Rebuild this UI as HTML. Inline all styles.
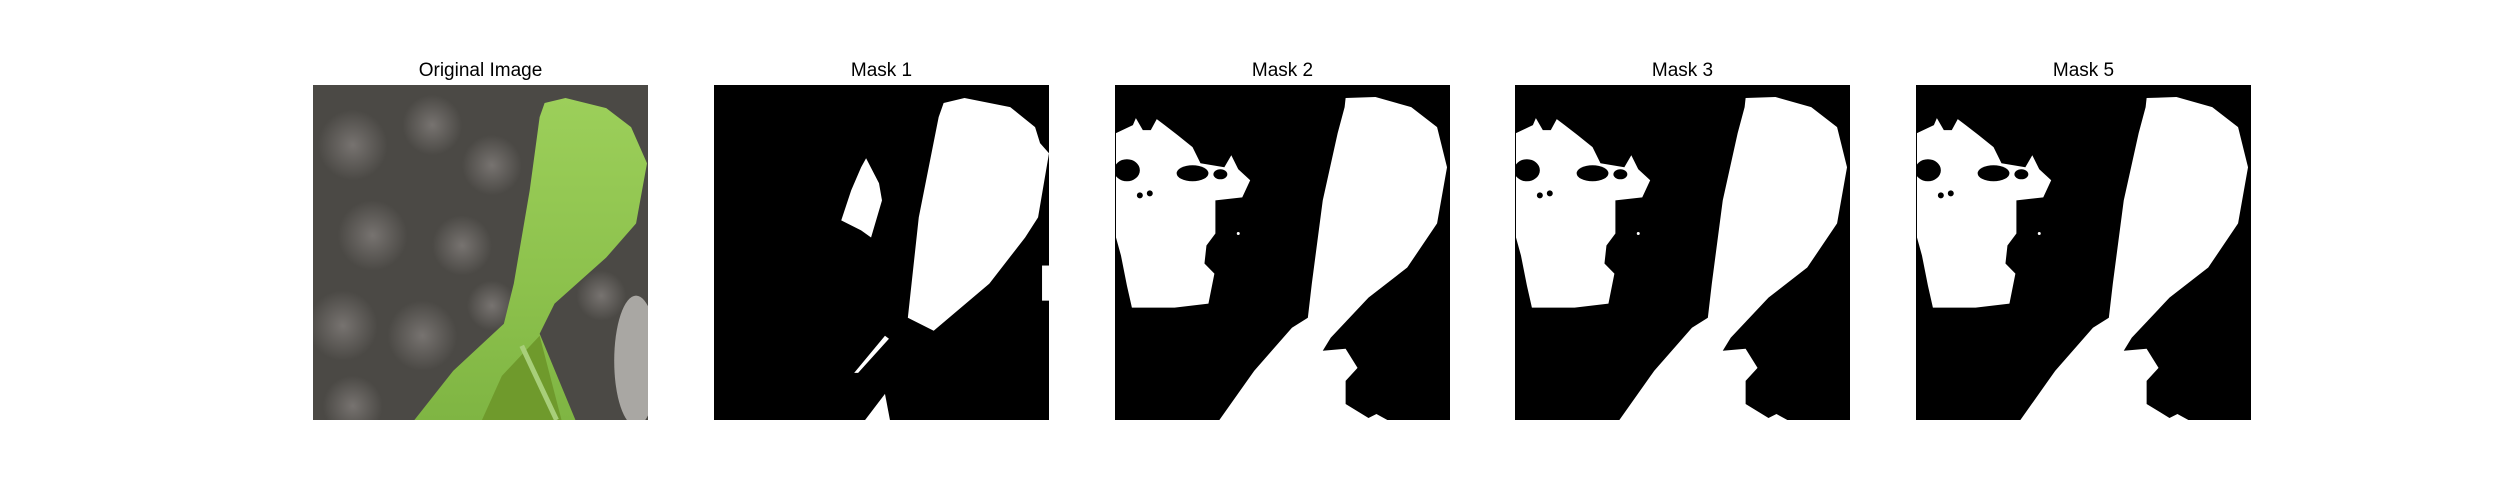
<!DOCTYPE html>
<html><head><meta charset="utf-8"><style>
html,body{margin:0;padding:0;background:#fff;width:2500px;height:500px;overflow:hidden;font-family:"Liberation Sans","DejaVu Sans",sans-serif}
.t{position:absolute;top:60px;width:335px;text-align:center;font-size:19px;color:#000}
svg.p{position:absolute;top:85px;width:335px;height:335px}
</style></head><body>
<svg width="0" height="0" style="position:absolute"><defs>
<g id="leafmask">
<path d="M231,22 L232,13 L262,12 L298,22 L324,42 L334,82 L324,138 L294,182 L255,212 L217,252 L209,265 L232,263 L244,282 L232,295 L232,318 L255,332 L263,328 L274,334 L105,334 L140,285 L178,242 L194,232 L198,198 L209,115 L224,48 Z" fill="#fff"/>
<path d="M1,48 L18,40 L21,33 L28,45 L36,45 L42,34 L50,40 L63,50 L78,62 L86,78 L110,82 L117,70 L124,84 L136,95 L128,112 L101,115 L101,148 L92,160 L90,178 L100,188 L94,218 L60,222 L17,222 L12,200 L6,170 L1,152 Z" fill="#fff"/>
<ellipse cx="12" cy="85" rx="13" ry="11" fill="#000"/>
<ellipse cx="78" cy="88" rx="16" ry="8" fill="#000"/>
<ellipse cx="106" cy="89" rx="7" ry="5" fill="#000"/>
<circle cx="25" cy="110" r="3" fill="#000"/><circle cx="35" cy="108" r="3" fill="#000"/>
<circle cx="124" cy="148" r="1.5" fill="#fff"/>
</g></defs></svg>

<div class="t" style="left:313px">Original Image</div>
<svg class="p" style="left:313px" viewBox="0 0 337 334" preserveAspectRatio="none">
<defs><radialGradient id="sp" r="0.5"><stop offset="0" stop-color="#777370"/><stop offset="1" stop-color="#777370" stop-opacity="0"/></radialGradient>
<linearGradient id="lf" x1="0" y1="0" x2="0" y2="1"><stop offset="0" stop-color="#9ccf5a"/><stop offset="0.6" stop-color="#8cc14c"/><stop offset="1" stop-color="#7fb543"/></linearGradient></defs>
<rect width="337" height="334" fill="#4b4945"/>
<g fill="url(#sp)">
<circle cx="40" cy="60" r="35"/><circle cx="120" cy="40" r="30"/><circle cx="180" cy="80" r="30"/><circle cx="60" cy="150" r="35"/>
<circle cx="150" cy="160" r="30"/><circle cx="30" cy="240" r="35"/><circle cx="110" cy="250" r="35"/><circle cx="180" cy="220" r="25"/>
<circle cx="40" cy="320" r="30"/><circle cx="250" cy="40" r="25"/><circle cx="290" cy="210" r="25"/></g>
<ellipse cx="325" cy="275" rx="22" ry="65" fill="#a9a7a3"/>
<path d="M228,32 L233,18 L254,13 L295,23 L320,42 L336,78 L325,138 L295,172 L243,218 L228,248 L264,334 L102,334 L141,285 L192,238 L202,198 L218,105 Z" fill="url(#lf)"/>
<path d="M190,290 L228,250 L250,334 L170,334 Z" fill="#6f9a2c"/>
<path d="M210,260 L245,334" stroke="#a8cf7a" stroke-width="5" fill="none"/>
</svg>

<div class="t" style="left:714px">Mask 1</div>
<svg class="p" style="left:714px" viewBox="0 0 337 334" preserveAspectRatio="none">
<rect width="337" height="334" fill="#000"/>
<path d="M226,32 L231,18 L252,13 L298,22 L323,42 L328,58 L337,68 L326,132 L313,152 L277,198 L221,245 L195,232 L206,132 Z" fill="#fff"/>
<path d="M153,73 L166,98 L169,115 L158,152 L148,145 L128,135 L138,105 L148,82 Z" fill="#fff"/>
<path d="M172,250 L176,253 L145,287 L141,287 Z" fill="#fff"/>
<path d="M172,308 L152,334 L177,334 Z" fill="#fff"/>
<rect x="330" y="180" width="7" height="35" fill="#fff"/>
</svg>

<div class="t" style="left:1115px">Mask 2</div>
<svg class="p" style="left:1115px" viewBox="0 0 337 334" preserveAspectRatio="none"><rect width="337" height="334" fill="#000"/><use href="#leafmask"/></svg>

<div class="t" style="left:1515px">Mask 3</div>
<svg class="p" style="left:1515px" viewBox="0 0 337 334" preserveAspectRatio="none"><rect width="337" height="334" fill="#000"/><use href="#leafmask"/></svg>

<div class="t" style="left:1916px">Mask 5</div>
<svg class="p" style="left:1916px" viewBox="0 0 337 334" preserveAspectRatio="none"><rect width="337" height="334" fill="#000"/><use href="#leafmask"/></svg>
</body></html>
